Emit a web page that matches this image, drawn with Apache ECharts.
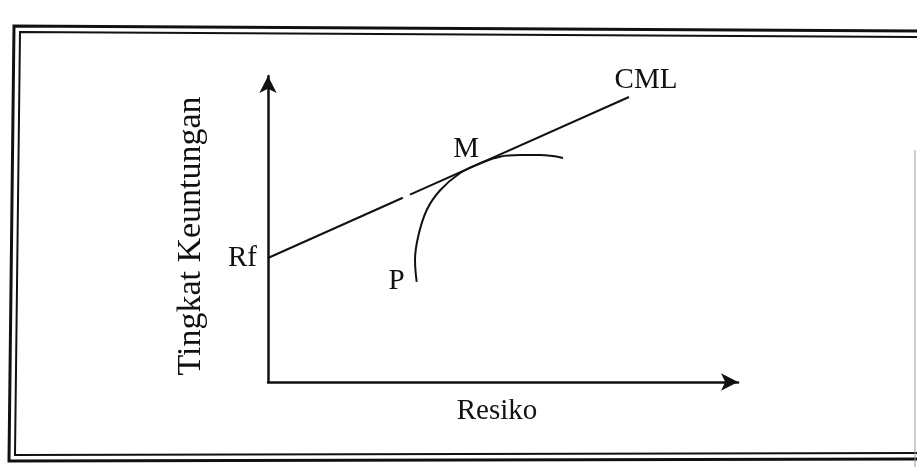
<!DOCTYPE html>
<html>
<head>
<meta charset="utf-8">
<script src="https://cdn.jsdelivr.net/npm/echarts@6/dist/echarts.min.js"></script>
<style>
  html, body { margin: 0; padding: 0; background: #fff; }
  #chart { width: 917px; height: 467px; }
</style>
</head>
<body>
<div id="chart"></div>
<script>
  // garis pasar modal (CML), mulai dari Rf; '-' = putus kecil di garis
  let cmlRisk = [0, 28.2, '-', 29.7, 75.5];
  let cmlReturn = [39.5, 58.7, '-', 59.7, 90.8];
  // kurva efisien dari P, menyinggung CML di M
  let frontierRisk = [31.1, 30.75, 31.4, 33.2, 36.0, 40.2, 44.4, 48.5, 52.7, 56.9, 61.7];
  let frontierReturn = [31.9, 38.9, 46.3, 54.8, 61.1, 66.6, 69.7, 71.8, 72.3, 72.3, 71.4];
  let axisNames = ['Resiko', 'Tingkat Keuntungan'];
  let pointLabels = ['Rf', 'CML', 'M', 'P'];

  let ink = '#111';
  let font = 'Liberation Serif';
  let labelStyle = {show: true, color: ink, fontFamily: font, fontSize: 29};

  let cmlData = cmlRisk.map((x, i) => ({value: [x, cmlReturn[i]]}));
  cmlData[0].label = Object.assign({}, labelStyle, {formatter: pointLabels[0], position: 'left', distance: 11});
  cmlData[cmlData.length - 1].label = Object.assign({}, labelStyle, {formatter: pointLabels[1], position: 'top', distance: 2, offset: [17, 0]});

  let frontierData = frontierRisk.map((x, i) => ({value: [x, frontierReturn[i]]}));
  frontierData[5].label = Object.assign({}, labelStyle, {formatter: pointLabels[2], position: 'top', distance: 9, offset: [6, 0]});
  frontierData[0].label = Object.assign({}, labelStyle, {formatter: pointLabels[3], position: 'left', distance: 12});

  let axisLine = {
    show: true,
    symbol: ['none', 'arrow'],
    symbolSize: [13, 17],
    lineStyle: {color: ink, width: 2.5}
  };

  let chart = echarts.init(document.getElementById('chart'), null, {renderer: 'canvas'});
  chart.setOption({
    animation: false,
    backgroundColor: '#fff',
    grid: {left: 268, right: 179, top: 76, bottom: 85},
    xAxis: {
      type: 'value', min: 0, max: 98.3,
      name: axisNames[0], nameLocation: 'middle', nameGap: 15,
      nameTextStyle: {color: ink, fontFamily: font, fontSize: 29, padding: [0, 12, 0, 0]},
      axisLine: axisLine,
      axisTick: {show: false}, axisLabel: {show: false}, splitLine: {show: false}
    },
    yAxis: {
      type: 'value', min: 0, max: 97.5,
      name: axisNames[1], nameLocation: 'middle', nameGap: 60, nameRotate: 90,
      nameTextStyle: {color: ink, fontFamily: font, fontSize: 34, padding: [0, 14, 0, 0]},
      axisLine: axisLine,
      axisTick: {show: false}, axisLabel: {show: false}, splitLine: {show: false}
    },
    series: [
      {
        name: 'CML', type: 'line', data: cmlData,
        showSymbol: true, symbolSize: 0, connectNulls: false,
        lineStyle: {color: ink, width: 2}
      },
      {
        name: 'frontier', type: 'line', data: frontierData,
        smooth: 0.4, showSymbol: true, symbolSize: 0,
        lineStyle: {color: ink, width: 2}
      }
    ],
    graphic: [
      // bingkai ganda hasil scan
      {type: 'polyline', shape: {points: [[917, 31], [14, 26], [9, 461], [917, 459]]},
        style: {stroke: ink, lineWidth: 3, fill: null}},
      {type: 'polyline', shape: {points: [[917, 37], [20, 32], [15, 455], [917, 453]]},
        style: {stroke: ink, lineWidth: 2, fill: null}},
      {type: 'line', shape: {x1: 915, y1: 150, x2: 915, y2: 467},
        style: {stroke: '#999', lineWidth: 1}}
    ]
  });
</script>
</body>
</html>
